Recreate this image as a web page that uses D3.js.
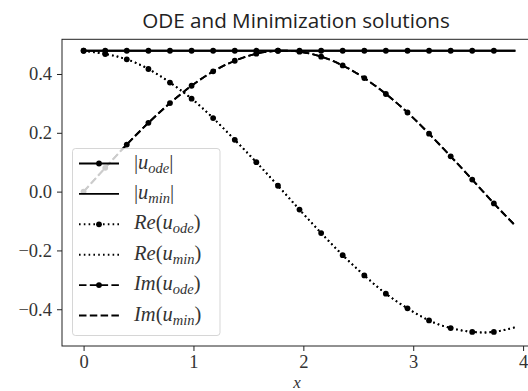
<!DOCTYPE html>
<html><head><meta charset="utf-8">
<script src="https://cdn.jsdelivr.net/npm/d3@7"></script>
<style>body{margin:0;background:#fff;overflow:hidden}</style>
</head><body><svg id="c" width="528" height="391"></svg>
<script>
// ---- data ----
const xVals = [0, 0.197, 0.393, 0.590, 0.786, 0.983, 1.179, 1.376, 1.572, 1.769, 1.965,
               2.162, 2.358, 2.555, 2.751, 2.948, 3.144, 3.341, 3.537, 3.734, 3.930];
const absOde = [0.479,0.479,0.479,0.479,0.479,0.479,0.479,0.479,0.479,0.479,0.479,
                0.479,0.479,0.479,0.479,0.479,0.479,0.479,0.479,0.479,0.479];
const absMin = [0.479,0.479,0.479,0.479,0.479,0.479,0.479,0.479,0.479,0.479,0.479,
                0.479,0.479,0.479,0.479,0.479,0.479,0.479,0.479,0.479,0.479];
const reOde = [0.479, 0.468, 0.450, 0.417, 0.371, 0.316, 0.250, 0.176, 0.100, 0.020, -0.061,
               -0.141, -0.216, -0.285, -0.347, -0.397, -0.438, -0.464, -0.477, -0.477, -0.461];
const reMin = [0.479, 0.468, 0.450, 0.417, 0.371, 0.316, 0.250, 0.176, 0.100, 0.020, -0.061,
               -0.141, -0.216, -0.285, -0.347, -0.397, -0.438, -0.464, -0.477, -0.477, -0.461];
const imOde = [0, 0.081, 0.160, 0.234, 0.301, 0.360, 0.409, 0.445, 0.469, 0.479, 0.476,
               0.459, 0.429, 0.386, 0.332, 0.269, 0.197, 0.120, 0.041, -0.040, -0.116];
const imMin = [0, 0.081, 0.160, 0.234, 0.301, 0.360, 0.409, 0.445, 0.469, 0.479, 0.476,
               0.459, 0.429, 0.386, 0.332, 0.269, 0.197, 0.120, 0.041, -0.040, -0.116];
const xTicks = [0, 1, 2, 3, 4];
const yTicks = [-0.4, -0.2, 0.0, 0.2, 0.4];
const titleText = "ODE and Minimization solutions";
const xLabel = "x";
const markCount = 20;

const series = [
  {sub:"ode", kind:"abs", y:absOde, dash:null, marker:true},
  {sub:"min", kind:"abs", y:absMin, dash:null, marker:false},
  {sub:"ode", kind:"Re", y:reOde, dash:"1.6,3.2", marker:true},
  {sub:"min", kind:"Re", y:reMin, dash:"1.6,3.2", marker:false},
  {sub:"ode", kind:"Im", y:imOde, dash:"7.5,3.3", marker:true},
  {sub:"min", kind:"Im", y:imMin, dash:"7.5,3.3", marker:false}
];

// ---- layout ----
const L = 62, T = 39.3, B = 346, R = 537;
const svg = d3.select("#c");
const x = d3.scaleLinear().domain([-0.1965, 4.1265]).range([L, R]);
const y = d3.scaleLinear().domain([-0.525, 0.518]).range([B, T]);
const serif = "'Liberation Serif', 'DejaVu Serif', serif";

svg.append("defs").append("clipPath").attr("id","clip")
  .append("rect").attr("x",L).attr("y",T).attr("width",R-L).attr("height",B-T);

const plot = svg.append("g").attr("clip-path","url(#clip)");
const line = d3.line().x((d,i)=>x(xVals[i])).y(d=>y(d)).curve(d3.curveNatural);
const lw = 1.9, mr = 2.9;
series.forEach(s => {
  plot.append("path").attr("d", line(s.y)).attr("fill","none")
    .attr("stroke","#000").attr("stroke-width",lw)
    .attr("stroke-dasharray", s.dash);
  if (s.marker) {
    plot.selectAll(null).data(s.y.slice(0, markCount)).enter().append("circle")
      .attr("cx",(d,i)=>x(xVals[i])).attr("cy",d=>y(d)).attr("r",mr).attr("fill","#000");
  }
});

// ---- axes ----
const xAxis = svg.append("g").attr("transform",`translate(0,${B})`)
  .call(d3.axisBottom(x).tickValues(xTicks).tickFormat(d3.format("d")).tickSize(5).tickPadding(4));
const yAxis = svg.append("g").attr("transform",`translate(${L},0)`)
  .call(d3.axisLeft(y).tickValues(yTicks).tickFormat(d3.format(".1f")).tickSize(5).tickPadding(5));
[xAxis, yAxis].forEach(a => {
  a.attr("font-family", serif);
  a.select(".domain").remove();
  a.selectAll(".tick line").attr("stroke","#222").attr("stroke-width",1);
  a.selectAll(".tick text").attr("font-family",serif).attr("font-size",18.5).attr("fill","#333");
});

svg.append("rect").attr("x",L).attr("y",T).attr("width",R-L).attr("height",B-T)
  .attr("fill","none").attr("stroke","#222").attr("stroke-width",1);

// ---- title & labels ----
const title = svg.append("text").attr("x",296).attr("y",28).attr("text-anchor","middle")
  .attr("font-family","'Open Sans', 'DejaVu Sans', sans-serif").attr("font-size",17).attr("fill","#222")
  .text(titleText);
const tw = title.node().getComputedTextLength();
title.attr("font-size", 17 * 308 / tw);

svg.append("text").attr("x",297).attr("y",388).attr("text-anchor","middle")
  .attr("font-family",serif).attr("font-style","italic").attr("font-size",17).attr("fill","#333")
  .text(xLabel);

// ---- legend ----
const lg = svg.append("g");
lg.append("rect").attr("x",72.5).attr("y",148.5).attr("width",147.5).attr("height",187)
  .attr("rx",3).attr("fill","#fff").attr("fill-opacity",0.8)
  .attr("stroke","#ccc").attr("stroke-opacity",0.8).attr("stroke-width",1);
series.forEach((s, k) => {
  const cy = 163.5 + k*30.4;
  lg.append("line").attr("x1",79).attr("x2",119).attr("y1",cy).attr("y2",cy)
    .attr("stroke","#000").attr("stroke-width",lw).attr("stroke-dasharray",s.dash);
  if (s.marker) lg.append("circle").attr("cx",99).attr("cy",cy).attr("r",mr).attr("fill","#000");
  const t = lg.append("text").attr("x",134).attr("y",cy+5)
    .attr("font-family",serif).attr("font-size",20.5).attr("fill","#333");
  if (s.kind === "abs") {
    t.append("tspan").text("|");
    t.append("tspan").attr("font-style","italic").text("u");
    t.append("tspan").attr("font-style","italic").attr("font-size",14.5).attr("dy",4).text(s.sub);
    t.append("tspan").attr("dy",-4).text("|");
  } else {
    t.append("tspan").attr("font-style","italic").text(s.kind === "Re" ? "Re" : "Im");
    t.append("tspan").text("(");
    t.append("tspan").attr("font-style","italic").text("u");
    t.append("tspan").attr("font-style","italic").attr("font-size",14.5).attr("dy",4).text(s.sub);
    t.append("tspan").attr("dy",-4).text(")");
  }
});
</script></body></html>
